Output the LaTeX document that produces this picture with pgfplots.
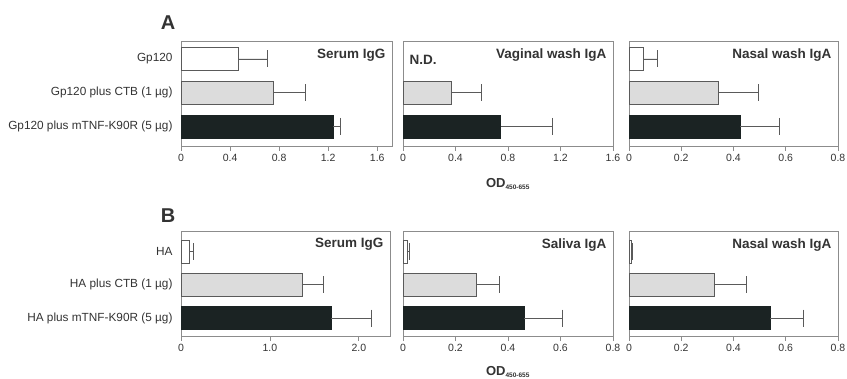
\documentclass[border=0pt]{standalone}
\usepackage{fontspec}
\setmainfont{Liberation Sans}
\usepackage{pgfplots}
\pgfplotsset{compat=1.18}
\definecolor{txt}{HTML}{333333}
\definecolor{ax}{HTML}{8C8C8C}
\definecolor{dark}{HTML}{1B2323}
\definecolor{light}{HTML}{DCDCDC}
\definecolor{eb}{HTML}{5A5A5A}
\tikzset{ttl/.style={font=\bfseries\fontsize{13.5}{15}\selectfont, text=txt, anchor=east}}
\pgfplotsset{
 panel/.style={
  scale only axis, height=105pt,
  xbar, bar width=0.68, bar shift=0pt,
  axis line style={ax, line width=0.8pt},
  xtick align=outside, xtick pos=bottom, ytick pos=left,
  ytick style={draw=none},
  major tick length=5pt, xtick style={ax, line width=0.8pt},
  ytick={0,1,2}, yticklabels={},
  xmin=0,
  tick label style={font=\fontsize{10.5}{12}\selectfont, text=txt},
  yticklabel style={font=\fontsize{11.8}{13}\selectfont, text=txt},
  every axis plot/.append style={line width=0.6pt,
    error bars/x dir=plus, error bars/x explicit,
    error bars/error bar style={eb, line width=0.7pt},
    error bars/error mark options={eb, line width=0.7pt, mark size=8.5pt, rotate=90}},
 },
 b1/.style={fill=white, draw=eb},
 b2/.style={fill=light, draw=eb},
 b3/.style={fill=dark, draw=dark},
 rowA/.style={ymin=-0.58, ymax=2.53},
 rowB/.style={ymin=-0.54, ymax=2.62},
 odl/.style={xlabel={\bfseries OD\textsubscript{\fontsize{6.5}{7}\selectfont 450-655}},
  xlabel style={font=\fontsize{13}{14}\selectfont, text=txt, yshift=#1}},
}
\begin{document}
\begin{tikzpicture}
\useasboundingbox (0,0) rectangle (847pt,378pt);
% ---- Row A ----
\begin{axis}[panel, rowA, at={(181pt,232pt)}, anchor=south west, width=211pt,
  xmax=1.72, xtick={0,0.4,0.8,1.2,1.6}, xticklabels={0,0.4,0.8,1.2,1.6},
  yticklabels={Gp120 plus mTNF-K90R (5 µg), Gp120 plus CTB (1 µg), Gp120}]
\addplot[b1] coordinates {(0.465,2) +- (0.24,0)};
\addplot[b2] coordinates {(0.75,1) +- (0.26,0)};
\addplot[b3] coordinates {(1.24,0) +- (0.06,0)};
\node[ttl] at (rel axis cs:0.985,0.86) {Serum IgG};
\end{axis}
\begin{axis}[panel, rowA, odl=-10pt, at={(403pt,232pt)}, anchor=south west, width=210pt,
  xmax=1.6, xtick={0,0.4,0.8,1.2,1.6}, xticklabels={0,0.4,0.8,1.2,1.6}]
\addplot[b2] coordinates {(0.37,1) +- (0.23,0)};
\addplot[b3] coordinates {(0.745,0) +- (0.39,0)};
\node[ttl] at (rel axis cs:0.985,0.87) {Vaginal wash IgA};
\node[ttl, anchor=west] at (rel axis cs:0.015,0.82) {N.D.};
\end{axis}
\begin{axis}[panel, rowA, at={(629pt,232pt)}, anchor=south west, width=209pt,
  xmax=0.8, xtick={0,0.2,0.4,0.6,0.8}, xticklabels={0,0.2,0.4,0.6,0.8}]
\addplot[b1] coordinates {(0.054,2) +- (0.053,0)};
\addplot[b2] coordinates {(0.343,1) +- (0.151,0)};
\addplot[b3] coordinates {(0.426,0) +- (0.151,0)};
\node[ttl] at (rel axis cs:0.985,0.87) {Nasal wash IgA};
\end{axis}
% ---- Row B ----
\begin{axis}[panel, rowB, at={(181pt,42pt)}, anchor=south west, width=209pt,
  xmax=2.35, xtick={0,1,2}, xticklabels={0,1.0,2.0},
  yticklabels={HA plus mTNF-K90R (5 µg), HA plus CTB (1 µg), HA}]
\addplot[b1] coordinates {(0.094,2) +- (0.05,0)};
\addplot[b2] coordinates {(1.36,1) +- (0.24,0)};
\addplot[b3] coordinates {(1.69,0) +- (0.45,0)};
\node[ttl] at (rel axis cs:0.985,0.87) {Serum IgG};
\end{axis}
\begin{axis}[panel, rowB, odl=-8pt, at={(403pt,42pt)}, anchor=south west, width=210pt,
  xmax=0.8, xtick={0,0.2,0.4,0.6,0.8}, xticklabels={0,0.2,0.4,0.6,0.8}]
\addplot[b1] coordinates {(0.015,2) +- (0.01,0)};
\addplot[b2] coordinates {(0.28,1) +- (0.088,0)};
\addplot[b3] coordinates {(0.461,0) +- (0.146,0)};
\node[ttl] at (rel axis cs:0.985,0.87) {Saliva IgA};
\end{axis}
\begin{axis}[panel, rowB, at={(629pt,42pt)}, anchor=south west, width=209pt,
  xmax=0.8, xtick={0,0.2,0.4,0.6,0.8}, xticklabels={0,0.2,0.4,0.6,0.8}]
\addplot[b1] coordinates {(0.008,2) +- (0.006,0)};
\addplot[b2] coordinates {(0.325,1) +- (0.125,0)};
\addplot[b3] coordinates {(0.54,0) +- (0.128,0)};
\node[ttl] at (rel axis cs:0.985,0.87) {Nasal wash IgA};
\end{axis}
\node[font=\bfseries\fontsize{20}{22}\selectfont, text=txt] at (168pt,355pt) {A};
\node[font=\bfseries\fontsize{20}{22}\selectfont, text=txt] at (168pt,162pt) {B};
\end{tikzpicture}
\end{document}
